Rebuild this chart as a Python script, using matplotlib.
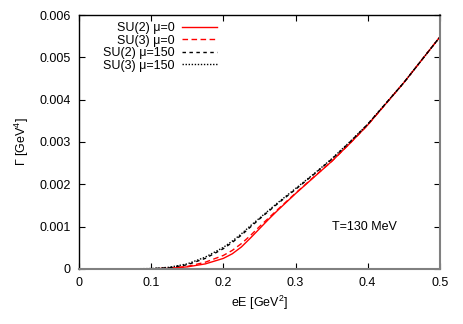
import matplotlib
matplotlib.use("Agg")
import matplotlib.pyplot as plt

plt.rcParams['font.family'] = ['Liberation Sans', 'DejaVu Sans']
plt.rcParams['mathtext.fontset'] = 'custom'
plt.rcParams['mathtext.rm'] = 'Liberation Sans'

# field strength eE [GeV^2]
eE = [0.0, 0.05, 0.1, 0.125, 0.15, 0.175, 0.2, 0.2125, 0.225, 0.2375, 0.25, 0.2625,
      0.275, 0.3, 0.325, 0.35, 0.375, 0.4, 0.45, 0.5]

# rate Gamma [GeV^4]
su2_mu0 = [0.0, 0.0, 0.000003, 0.000015, 0.00005, 0.00012, 0.00025, 0.00036, 0.00052, 0.00073,
           0.00095, 0.00117, 0.00138, 0.00178, 0.00216, 0.00254, 0.00296, 0.0034, 0.0044, 0.00548]
su3_mu0 = [0.0, 0.0, 0.000004, 0.00002, 0.00006, 0.00016, 0.00032, 0.00044, 0.0006, 0.00079,
           0.00100, 0.0012, 0.0014, 0.00179, 0.00217, 0.00254, 0.00296, 0.0034, 0.0044, 0.00548]
su2_mu150 = [0.0, 0.0, 0.000008, 0.00003, 0.0001, 0.00025, 0.00048, 0.00063, 0.0008, 0.00099,
             0.00118, 0.00136, 0.00154, 0.00188, 0.00223, 0.00259, 0.00299, 0.00342, 0.0044, 0.00548]
su3_mu150 = [0.0, 0.0, 0.00001, 0.00004, 0.00012, 0.00028, 0.00051, 0.00066, 0.00083, 0.00102,
             0.0012, 0.00138, 0.00156, 0.0019, 0.00224, 0.0026, 0.003, 0.00342, 0.0044, 0.00548]

x_ticks = [0, 0.1, 0.2, 0.3, 0.4, 0.5]
x_labels = ['0', '0.1', '0.2', '0.3', '0.4', '0.5']
y_ticks = [0, 0.001, 0.002, 0.003, 0.004, 0.005, 0.006]
y_labels = ['0', '0.001', '0.002', '0.003', '0.004', '0.005', '0.006']

fig = plt.figure(figsize=(4.63, 3.24), dpi=100)
ax = fig.add_axes([0.1706, 0.1698, 0.7794, 0.7839])

ax.plot(eE, su2_mu0, color='#ff0000', lw=1.0, label='SU(2) μ=0')
ax.plot(eE, su3_mu0, color='#ff0000', lw=1.0, dashes=(4, 2.5), label='SU(3) μ=0')
ax.plot(eE, su2_mu150, color='black', lw=1.0, dashes=(2.5, 2.5), label='SU(2) μ=150')
ax.plot(eE, su3_mu150, color='black', lw=1.0, dashes=(1, 1.2), label='SU(3) μ=150')

ax.set_xlim(0, 0.5)
ax.set_ylim(0, 0.006)
ax.set_xticks(x_ticks)
ax.set_xticklabels(x_labels)
ax.set_yticks(y_ticks)
ax.set_yticklabels(y_labels)
ax.tick_params(direction='in', length=4, width=0.8, top=True, right=True, labelsize=9, pad=6)

for s in ['left', 'top']:
    ax.spines[s].set_color('black')
    ax.spines[s].set_linewidth(1.0)
for s in ['bottom', 'right']:
    ax.spines[s].set_color('#808080')
    ax.spines[s].set_linewidth(1.5)

ax.set_xlabel(r'eE [GeV$^2$]', fontsize=9, labelpad=3)
ax.set_ylabel(r'$\Gamma$ [GeV$^4$]', fontsize=9, labelpad=6)

ax.text(0.396, 0.00099, 'T=130 MeV', fontsize=9, ha='center', va='center')

ax.legend(loc='upper left', bbox_to_anchor=(0.047, 1.0), markerfirst=False, frameon=False,
          fontsize=9, handlelength=2.8, labelspacing=0.05, borderaxespad=0.15,
          handletextpad=0.6)

fig.savefig('out.png', dpi=100)
